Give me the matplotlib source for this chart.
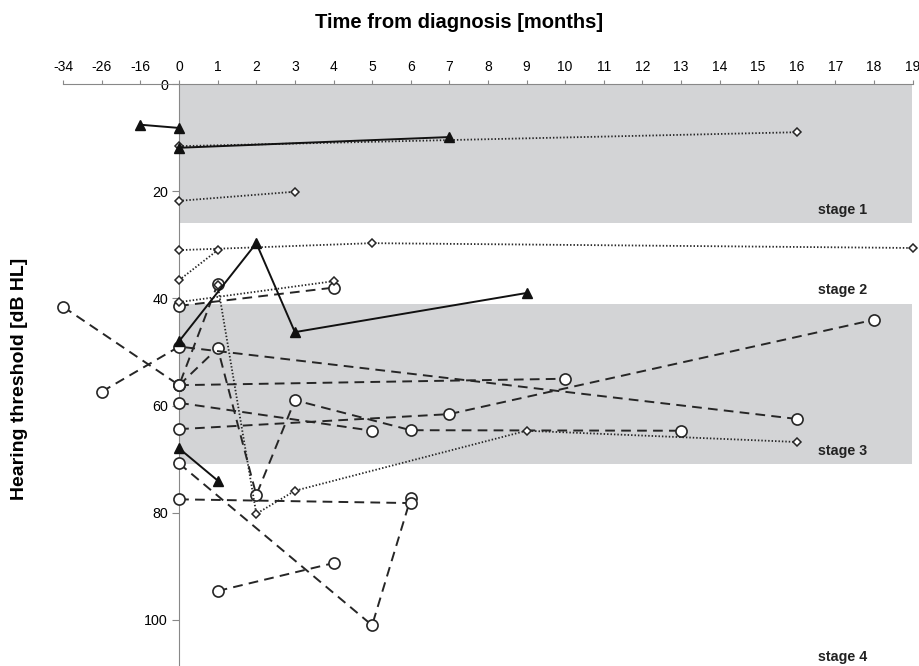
import matplotlib
matplotlib.use('Agg')
import matplotlib.pyplot as plt
import numpy as np

plt.rcParams['font.family'] = ['Liberation Sans', 'DejaVu Sans']

# x axis: months from diagnosis, uneven spacing before 0
month_ticks = [-34, -26, -16] + list(range(0, 20))
tick_pos = np.arange(len(month_ticks)) - 3

y_ticks = [0, 20, 40, 60, 80, 100]

# shaded stage bands (dB HL)
stage1_band = (0, 26)
stage3_band = (41, 71)
stage_names = ['stage 1', 'stage 2', 'stage 3', 'stage 4']
stage_label_y = [23.5, 38.4, 68.5, 107]

# solid lines, filled triangles
tri_months = [[-16, 0], [0, 7], [0, 2, 3, 9], [0, 1]]
tri_db = [[7.6, 8.2], [11.9, 9.9], [48, 29.7, 46.3, 39], [68, 74]]

# dotted lines, open diamonds
dia_months = [[0, 16], [0, 3], [0, 5, 19], [0, 1], [0, 4], [1, 2, 3, 9, 16]]
dia_db = [[11.6, 9.0], [21.8, 20.1], [31, 29.7, 30.6], [36.6, 31],
          [40.7, 36.8], [37.5, 80.2, 75.9, 64.7, 66.8]]

# dashed lines, open circles
circ_months = [[-34, 0, 1], [0, 10], [0, 1, 2, 3, 6, 13], [-26, 0, 16],
               [0, 4], [0, 5], [0, 7, 18], [0, 5, 6], [0, 6], [1, 4]]
circ_db = [[41.6, 56.2, 37.3], [56.2, 55], [56.2, 49.3, 76.7, 59, 64.6, 64.7],
           [57.4, 49, 62.5], [41.4, 38], [59.5, 64.7], [64.4, 61.6, 44],
           [70.8, 101, 77.3], [77.5, 78.2], [94.6, 89.4]]


def fwd(x):
    return np.interp(x, month_ticks, tick_pos)


def inv(p):
    return np.interp(p, tick_pos, month_ticks)


fig = plt.figure(figsize=(9.2, 6.66), dpi=100)
ax = fig.add_axes([63.3 / 920, 0, (912.5 - 63.3) / 920, 1 - 84 / 666])
ax.set_xscale('function', functions=(fwd, inv))
ax.set_xlim(-34, 19)
ax.set_ylim(108.6, 0)

band_col = '#d3d4d6'
ax.axhspan(stage1_band[0], stage1_band[1], xmin=3 / 22, xmax=1, color=band_col, lw=0, zorder=0)
ax.axhspan(stage3_band[0], stage3_band[1], xmin=3 / 22, xmax=1, color=band_col, lw=0, zorder=0)

line_col = '#262626'
for xs, ys in zip(circ_months, circ_db):
    ax.plot(xs, ys, color=line_col, lw=1.4, dashes=(5.0, 3.2),
            marker='o', ms=8, mfc='white', mec=line_col, mew=1.2, zorder=3,
            clip_on=False)
for xs, ys in zip(dia_months, dia_db):
    ax.plot(xs, ys, color=line_col, lw=1.3, linestyle=(0, (0.8, 1.1)),
            marker='D', ms=4.3, mfc='white', mec=line_col, mew=1.1, zorder=4,
            clip_on=False)
for xs, ys in zip(tri_months, tri_db):
    ax.plot(xs, ys, color='#111111', lw=1.4, linestyle='-',
            marker='^', ms=6.5, mfc='#111111', mec='#111111', zorder=5,
            clip_on=False)

for name, yv in zip(stage_names, stage_label_y):
    ax.text(16.54, yv, name, fontsize=10.3, fontweight='bold', color='#222222',
            ha='left', va='center')

# axes styling
for s in ['right', 'bottom']:
    ax.spines[s].set_visible(False)
ax.spines['left'].set_position(('data', 0))
ax.spines['left'].set_color('#888888')
ax.spines['top'].set_color('#888888')
ax.xaxis.tick_top()
ax.set_xticks(month_ticks)
ax.set_xticklabels([str(t) for t in month_ticks])
ax.xaxis.set_minor_locator(matplotlib.ticker.NullLocator())
ax.tick_params(axis='x', direction='out', length=3, color='#888888', labelsize=10, pad=4)
ax.set_yticks(y_ticks)
ax.tick_params(axis='y', direction='out', length=5, color='#888888', labelsize=10.3, pad=3)
ax.patch.set_alpha(0)

fig.text(459 / 920, 1 - 22 / 666, 'Time from diagnosis [months]', fontsize=14.5,
         fontweight='bold', ha='center', va='center')
fig.text(20 / 920, 1 - 379 / 666, 'Hearing threshold [dB HL]', fontsize=14,
         fontweight='bold', ha='center', va='center', rotation=90)

fig.savefig('out.png', dpi=100)
